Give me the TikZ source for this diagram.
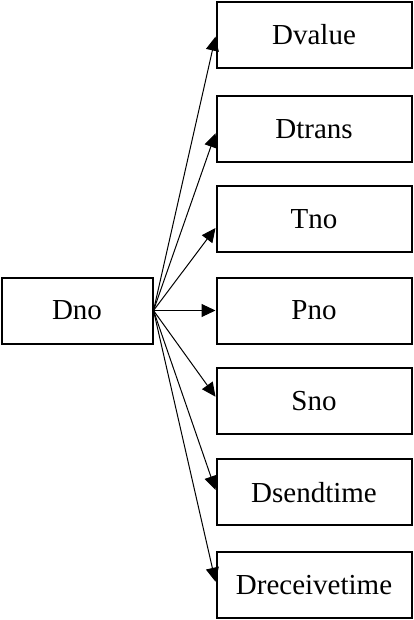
\documentclass[tikz,border=0pt]{standalone}
\usepackage{fontspec}
\setmainfont{Liberation Serif}
\usetikzlibrary{arrows.meta,calc}
\tikzset{
	field/.style={draw, line width=1pt, minimum width=97.5pt, minimum height=33pt, inner sep=0pt, font=\fontsize{14.5}{17}\selectfont},
	link/.style={line width=0.5pt, -{Triangle[length=7pt,width=6.5pt]}}
}

\begin{document}
\begin{tikzpicture}[x=0.5pt, y=-0.5pt]
		%%%%% START %%%%%
		
		\useasboundingbox (0, 0) rectangle (413, 620);
		
		\node[field, minimum width=75.5pt] (dno) at (77, 310.5) {Dno};
		
		\foreach \name/\txt/\cy/\dy in {dvalue/Dvalue/35/1.7, dtrans/Dtrans/129.3/4, tno/Tno/219/9, pno/Pno/310.5/0, sno/Sno/401.3/-4.6, dsendtime/Dsendtime/492.3/-2.3, dreceivetime/Dreceivetime/585/-3.3}
		{
			\node[field] (\name) at (314, \cy) {\txt};
			\draw[link] (dno.east) -- ($(\name.west)+(0, \dy)$);
		}
		
		%%%%% END %%%%%
	\end{tikzpicture}
\end{document}
